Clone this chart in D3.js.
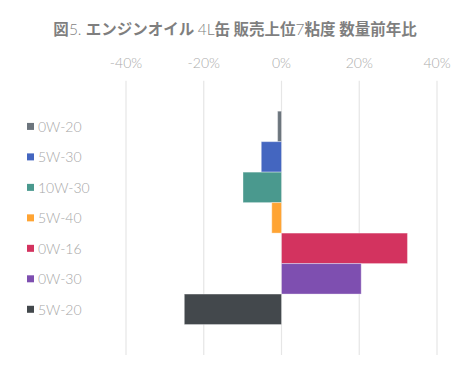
<!DOCTYPE html>
<html>
<head>
<meta charset="utf-8">
<script src="https://cdn.jsdelivr.net/npm/d3@7"></script>
<style>
  body { margin: 0; background: #fff; }
  svg { display: block; }
</style>
</head>
<body>
<div id="chart"></div>
<script>
// Data
const grades = ["0W-20", "5W-30", "10W-30", "5W-40", "0W-16", "0W-30", "5W-20"];
const yoy = [-1.0, -5.2, -9.9, -2.5, 32.4, 20.5, -25.0];
const colors = ["#6c757d", "#4466c0", "#4a998e", "#ffa433", "#d3335f", "#7e4fb0", "#43484c"];
const ticks = [-40, -20, 0, 20, 40];

const width = 471, height = 375;

const svg = d3.select("#chart").append("svg")
    .attr("width", width)
    .attr("height", height);

// Title (latin parts light, kana/kanji bold)
const titleParts = [
    ["図", true], ["5. ", false], ["エンジンオイル ", true], ["4L", false],
    ["缶 販売上位", true], ["7", false], ["粘度 数量前年比", true]
];
const title = svg.append("text")
    .attr("x", 235)
    .attr("y", 35)
    .attr("text-anchor", "middle")
    .attr("fill", "#7f7f7f")
    .style("font-size", "15.5px");
title.selectAll("tspan")
    .data(titleParts)
    .join("tspan")
    .style("font-family", d => d[1] ? "'Noto Sans CJK JP'" : "Lato")
    .style("font-weight", d => d[1] ? 700 : 300)
    .text(d => d[0]);

// Scales
const x = d3.scaleLinear().domain([-40, 40]).range([126, 437]);
const y = d3.scaleBand().domain(grades).range([80.7, 355]).paddingInner(0).paddingOuter(1);

// Grid
svg.append("g")
    .selectAll("line")
    .data(ticks)
    .join("line")
    .attr("x1", d => x(d)).attr("x2", d => x(d))
    .attr("y1", 80.7).attr("y2", 355)
    .attr("stroke", "#e6e6e6")
    .attr("stroke-width", 1.2);

// Tick labels
svg.append("g")
    .selectAll("text")
    .data(ticks)
    .join("text")
    .attr("x", d => x(d))
    .attr("y", 68)
    .attr("text-anchor", "middle")
    .attr("fill", "#ababab")
    .style("font-family", "Lato")
    .style("font-weight", 300)
    .style("font-size", "14px")
    .text(d => d + "%");

// Bars
svg.append("g")
    .selectAll("rect")
    .data(grades)
    .join("rect")
    .attr("x", (d, i) => x(Math.min(0, yoy[i])))
    .attr("y", d => y(d))
    .attr("width", (d, i) => Math.abs(x(yoy[i]) - x(0)))
    .attr("height", y.bandwidth())
    .attr("fill", (d, i) => colors[i])
    .attr("stroke", "#ffffff")
    .attr("stroke-opacity", 0.35)
    .attr("stroke-width", 1);

// Legend
const legend = svg.append("g")
    .selectAll("g")
    .data(grades)
    .join("g")
    .attr("transform", d => `translate(0,${y(d) + y.bandwidth() / 2})`);

legend.append("rect")
    .attr("x", 27)
    .attr("y", -3.5)
    .attr("width", 7)
    .attr("height", 7)
    .attr("fill", (d, i) => colors[i]);

legend.append("text")
    .attr("x", 38)
    .attr("y", 5.5)
    .attr("fill", "#a6a6a6")
    .style("font-family", "Lato")
    .style("font-weight", 300)
    .style("font-size", "14px")
    .text(d => d);
</script>
</body>
</html>
